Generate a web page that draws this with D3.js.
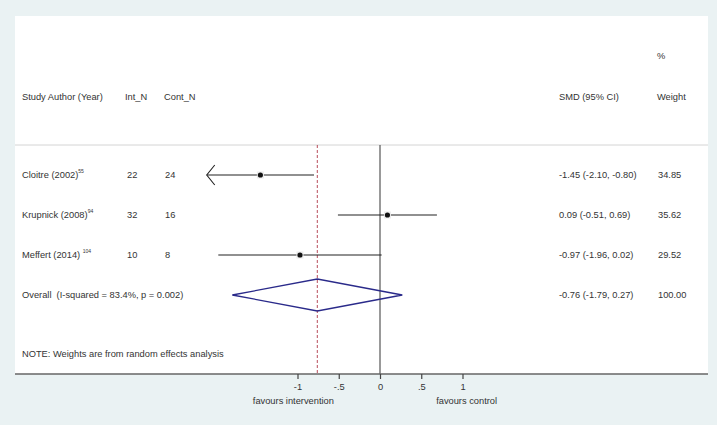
<!DOCTYPE html>
<html>
<head>
<meta charset="utf-8">
<script src="https://cdn.jsdelivr.net/npm/d3@7"></script>
<style>
  body { margin: 0; background: #eaf2f3; }
  text { font-family: "Liberation Sans", Arial, sans-serif; font-size: 9.3px; fill: #333; white-space: pre; }
</style>
</head>
<body>
<svg width="717" height="425"></svg>
<script>
var studies = ["Cloitre (2002)", "Krupnick (2008)", "Meffert (2014) "];
var refs = ["55", "94", "104"];
var intN = [22, 32, 10];
var contN = [24, 16, 8];
var smd = [-1.45, 0.09, -0.97];
var ciLow = [-2.10, -0.51, -1.96];
var ciHigh = [-0.80, 0.69, 0.02];
var weights = ["34.85", "35.62", "29.52"];
var overall = {smd: -0.76, low: -1.79, high: 0.27, weight: "100.00",
    label: "Overall  (I-squared = 83.4%, p = 0.002)"};
var tickVals = [-1, -0.5, 0, 0.5, 1];
var tickLabels = ["-1", "-.5", "0", ".5", "1"];
var xMin = -2.10;

var fmt = d3.formatLocale({decimal: ".", thousands: ",", grouping: [3], currency: ["", ""], minus: "-"}).format(".2f");
function ciText(m, l, h) { return fmt(m) + " (" + fmt(l) + ", " + fmt(h) + ")"; }

var svg = d3.select("svg");

// white plot panel
svg.append("rect")
    .attr("x", 15).attr("y", 16)
    .attr("width", 693).attr("height", 358)
    .attr("fill", "white");

var x = d3.scaleLinear().domain([-1, 1]).range([297.5, 462.5]);
var rowY = d3.scalePoint().domain(d3.range(4)).range([175, 295]);

// header
svg.append("text").attr("x", 22).attr("y", 100).text("Study Author (Year)");
svg.append("text").attr("x", 125).attr("y", 100).text("Int_N");
svg.append("text").attr("x", 164).attr("y", 100).text("Cont_N");
svg.append("text").attr("x", 559).attr("y", 100).text("SMD (95% CI)");
svg.append("text").attr("x", 657).attr("y", 59).text("%");
svg.append("text").attr("x", 657).attr("y", 100).text("Weight");

svg.append("line")
    .attr("x1", 15).attr("x2", 708).attr("y1", 145).attr("y2", 145)
    .attr("stroke", "#d4d4d4").attr("stroke-width", 1);

// null line and overall line
svg.append("line")
    .attr("x1", x(0)).attr("x2", x(0)).attr("y1", 145).attr("y2", 374)
    .attr("stroke", "#555").attr("stroke-width", 1.2);
svg.append("line")
    .attr("x1", x(overall.smd)).attr("x2", x(overall.smd)).attr("y1", 145).attr("y2", 374)
    .attr("stroke", "#b03a48").attr("stroke-width", 0.9)
    .attr("stroke-dasharray", "3,2");

// study rows
var rows = svg.selectAll("g.row")
    .data(studies)
    .enter().append("g")
    .attr("class", "row");

rows.each(function(d, i) {
    var g = d3.select(this);
    var y = rowY(i);
    var t = g.append("text").attr("x", 22).attr("y", y + 3);
    t.append("tspan").text(d);
    t.append("tspan").attr("dy", -5).style("font-size", "5px").text(refs[i]);
    g.append("text").attr("x", 127).attr("y", y + 3).text(intN[i]);
    g.append("text").attr("x", 165).attr("y", y + 3).text(contN[i]);
    g.append("text").attr("x", 559).attr("y", y + 3).text(ciText(smd[i], ciLow[i], ciHigh[i]));
    g.append("text").attr("x", 658).attr("y", y + 3).text(weights[i]);

    var lo = Math.max(ciLow[i], xMin);
    g.append("line")
        .attr("x1", x(lo)).attr("x2", x(ciHigh[i]))
        .attr("y1", y).attr("y2", y)
        .attr("stroke", "#222").attr("stroke-width", 1.2);
    if (ciLow[i] <= xMin) {
        g.append("path")
            .attr("d", "M" + (x(lo) + 8) + "," + (y - 10) + "L" + x(lo) + "," + y + "L" + (x(lo) + 8) + "," + (y + 10))
            .attr("fill", "none").attr("stroke", "#222").attr("stroke-width", 1.1);
    }
    g.append("rect")
        .attr("x", x(smd[i]) - 3.5).attr("y", y - 3.5)
        .attr("width", 7).attr("height", 7)
        .attr("fill", "#ececec");
    g.append("circle")
        .attr("cx", x(smd[i])).attr("cy", y).attr("r", 2.6)
        .attr("fill", "#111");
});

// overall
var oy = rowY(3);
svg.append("text").attr("x", 22).attr("y", oy + 3).text(overall.label);
svg.append("text").attr("x", 559).attr("y", oy + 3).text(ciText(overall.smd, overall.low, overall.high));
svg.append("text").attr("x", 658).attr("y", oy + 3).text(overall.weight);
svg.append("path")
    .attr("d", "M" + x(overall.low) + "," + oy +
        "L" + x(overall.smd) + "," + (oy - 16) +
        "L" + x(overall.high) + "," + oy +
        "L" + x(overall.smd) + "," + (oy + 16) + "Z")
    .attr("fill", "none").attr("stroke", "#2a2a8a").attr("stroke-width", 1.3);

svg.append("text").attr("x", 22).attr("y", 357).text("NOTE: Weights are from random effects analysis");

// axis
svg.append("line")
    .attr("x1", 15).attr("x2", 708).attr("y1", 374).attr("y2", 374)
    .attr("stroke", "#666").attr("stroke-width", 1.6);

var axis = d3.axisBottom(x)
    .tickValues(tickVals)
    .tickSize(5)
    .tickFormat(function(d, i) { return tickLabels[i]; });

var ag = svg.append("g")
    .attr("transform", "translate(0,374)")
    .call(axis);
ag.select(".domain").remove();
ag.selectAll(".tick line").attr("stroke", "#444").attr("stroke-width", 1.2);
ag.selectAll(".tick text")
    .attr("dy", "0.9em")
    .style("font-family", "Liberation Sans, Arial, sans-serif")
    .style("font-size", "9.3px").attr("fill", "#333");

svg.append("text").attr("x", x(-1.05)).attr("y", 404).attr("text-anchor", "middle").text("favours intervention");
svg.append("text").attr("x", x(1.05)).attr("y", 404).attr("text-anchor", "middle").text("favours control");
</script>
</body>
</html>
